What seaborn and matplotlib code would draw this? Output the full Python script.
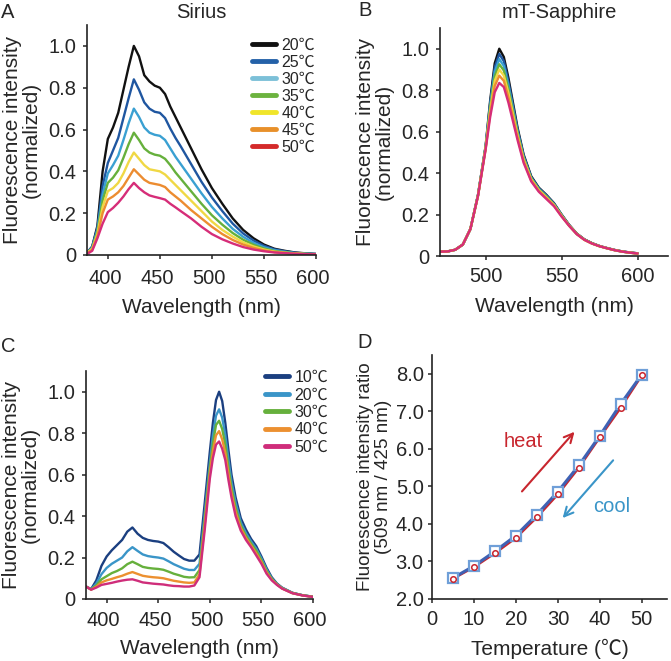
import numpy as np
import pandas as pd
import matplotlib
matplotlib.use("Agg")
import matplotlib.pyplot as plt
from matplotlib.lines import Line2D
from matplotlib.transforms import ScaledTranslation
import seaborn as sns

sns.set_style("ticks")
plt.rcParams['font.family'] = ['Liberation Sans', 'Noto Sans CJK JP', 'DejaVu Sans']
plt.rcParams['axes.linewidth'] = 1.2

# ---------------- Panel A: Sirius ----------------
wl_a = [380, 385, 390, 395, 400, 405, 410, 415, 420, 425, 430, 435, 440, 445, 450, 455,
        460, 465, 470, 480, 490, 500, 510, 520, 530, 540, 550, 560, 570, 580, 590, 600]
temps_a = ['20℃', '25℃', '30℃', '35℃', '40℃', '45℃', '50℃']
a_20 = [0.01, 0.04, 0.14, 0.40, 0.555, 0.61, 0.68, 0.79, 0.90, 1.00, 0.95, 0.86, 0.83, 0.81, 0.80, 0.77,
        0.71, 0.66, 0.61, 0.51, 0.41, 0.32, 0.245, 0.175, 0.12, 0.08, 0.05, 0.03, 0.02, 0.012, 0.008, 0.005]
a_25 = [0.01, 0.04, 0.13, 0.33, 0.44, 0.50, 0.56, 0.655, 0.75, 0.84, 0.79, 0.73, 0.70, 0.685, 0.68, 0.655,
        0.605, 0.56, 0.52, 0.435, 0.35, 0.275, 0.21, 0.15, 0.103, 0.069, 0.044, 0.027, 0.018, 0.011, 0.007, 0.005]
a_30 = [0.01, 0.035, 0.12, 0.29, 0.39, 0.43, 0.475, 0.55, 0.63, 0.70, 0.66, 0.61, 0.585, 0.575, 0.57, 0.55,
        0.51, 0.47, 0.435, 0.365, 0.295, 0.23, 0.175, 0.125, 0.087, 0.058, 0.037, 0.023, 0.015, 0.009, 0.006, 0.004]
a_35 = [0.01, 0.03, 0.11, 0.26, 0.345, 0.37, 0.405, 0.465, 0.53, 0.585, 0.55, 0.51, 0.49, 0.48, 0.475, 0.46,
        0.43, 0.395, 0.365, 0.305, 0.245, 0.19, 0.145, 0.105, 0.073, 0.049, 0.031, 0.019, 0.013, 0.008, 0.005, 0.004]
a_40 = [0.01, 0.03, 0.10, 0.23, 0.305, 0.32, 0.345, 0.39, 0.445, 0.49, 0.46, 0.43, 0.41, 0.405, 0.40, 0.385,
        0.36, 0.335, 0.31, 0.26, 0.21, 0.16, 0.12, 0.088, 0.061, 0.041, 0.026, 0.016, 0.011, 0.007, 0.005, 0.003]
a_45 = [0.008, 0.025, 0.09, 0.20, 0.265, 0.28, 0.30, 0.33, 0.37, 0.41, 0.385, 0.36, 0.345, 0.34, 0.335, 0.325,
        0.30, 0.28, 0.26, 0.215, 0.175, 0.135, 0.10, 0.072, 0.05, 0.034, 0.022, 0.014, 0.010, 0.006, 0.004, 0.003]
a_50 = [0.005, 0.02, 0.08, 0.15, 0.205, 0.225, 0.25, 0.28, 0.315, 0.345, 0.32, 0.30, 0.285, 0.278, 0.272, 0.265,
        0.245, 0.228, 0.21, 0.175, 0.135, 0.10, 0.075, 0.055, 0.038, 0.026, 0.018, 0.012, 0.009, 0.006, 0.004, 0.003]
colors_a = ['#111111', '#1f56a0', '#3aa0d2', '#66b03c', '#f0d844', '#ec8c30', '#d62d78']
legend_colors_a = ['#111111', '#2461a8', '#7cc0d8', '#6cb33f', '#f0e52a', '#e8902a', '#d42a2a']

# ---------------- Panel B: mT-Sapphire ----------------
wl_b = [470, 475, 480, 485, 490, 495, 500, 503, 506, 509, 512, 515, 518, 521, 525, 530, 535, 540,
        545, 550, 555, 560, 565, 570, 575, 580, 585, 590, 595, 600]
b_20 = [0.021, 0.022, 0.03, 0.055, 0.13, 0.295, 0.53, 0.75, 0.93, 1.00, 0.96, 0.86, 0.74, 0.62, 0.49, 0.385, 0.33, 0.295,
        0.255, 0.20, 0.15, 0.108, 0.08, 0.062, 0.048, 0.038, 0.029, 0.022, 0.017, 0.013]
b_25 = [0.021, 0.022, 0.03, 0.055, 0.13, 0.294, 0.527, 0.738, 0.91, 0.975, 0.94, 0.842, 0.727, 0.611, 0.484, 0.381, 0.327, 0.292,
        0.253, 0.199, 0.149, 0.108, 0.08, 0.061, 0.048, 0.038, 0.029, 0.022, 0.017, 0.013]
b_30 = [0.021, 0.022, 0.03, 0.055, 0.13, 0.293, 0.525, 0.726, 0.89, 0.95, 0.917, 0.824, 0.713, 0.602, 0.478, 0.377, 0.324, 0.289,
        0.25, 0.197, 0.148, 0.107, 0.079, 0.061, 0.048, 0.037, 0.028, 0.021, 0.016, 0.012]
b_35 = [0.021, 0.022, 0.03, 0.055, 0.13, 0.292, 0.522, 0.714, 0.867, 0.925, 0.895, 0.806, 0.70, 0.593, 0.472, 0.374, 0.321, 0.286,
        0.248, 0.196, 0.147, 0.107, 0.079, 0.061, 0.047, 0.037, 0.028, 0.021, 0.016, 0.012]
b_40 = [0.021, 0.022, 0.03, 0.055, 0.13, 0.291, 0.52, 0.70, 0.845, 0.90, 0.87, 0.787, 0.685, 0.583, 0.466, 0.37, 0.318, 0.283,
        0.246, 0.194, 0.146, 0.106, 0.078, 0.06, 0.047, 0.037, 0.028, 0.021, 0.016, 0.012]
b_45 = [0.021, 0.022, 0.03, 0.055, 0.13, 0.29, 0.516, 0.687, 0.82, 0.87, 0.845, 0.765, 0.669, 0.573, 0.458, 0.365, 0.314, 0.279,
        0.243, 0.192, 0.146, 0.106, 0.078, 0.06, 0.047, 0.037, 0.028, 0.021, 0.016, 0.012]
b_50 = [0.021, 0.022, 0.03, 0.055, 0.13, 0.29, 0.513, 0.67, 0.79, 0.835, 0.815, 0.74, 0.65, 0.56, 0.45, 0.36, 0.31, 0.275,
        0.24, 0.19, 0.145, 0.105, 0.078, 0.06, 0.047, 0.037, 0.028, 0.021, 0.016, 0.012]

# ---------------- Panel C: Sirius + mT-Sapphire ----------------
wl_c = [380, 385, 390, 395, 400, 405, 410, 415, 420, 425, 430, 435, 440, 445, 450, 455, 460, 465, 470, 475,
        480, 485, 490, 495, 500, 503, 506, 509, 512, 515, 518, 521, 525, 530, 535, 540, 545, 550, 555, 560,
        565, 570, 580, 590, 600]
temps_c = ['10℃', '20℃', '30℃', '40℃', '50℃']
c_10 = [0.06, 0.048, 0.09, 0.16, 0.205, 0.235, 0.26, 0.285, 0.325, 0.345, 0.315, 0.295, 0.285, 0.28, 0.277, 0.27, 0.25, 0.228, 0.21, 0.193,
        0.185, 0.185, 0.215, 0.46, 0.71, 0.85, 0.96, 1.00, 0.955, 0.85, 0.72, 0.60, 0.49, 0.39, 0.335, 0.29, 0.255, 0.205, 0.15, 0.105,
        0.075, 0.055, 0.03, 0.018, 0.011]
c_20 = [0.06, 0.047, 0.075, 0.12, 0.15, 0.17, 0.185, 0.20, 0.23, 0.25, 0.232, 0.215, 0.207, 0.203, 0.20, 0.195, 0.182, 0.168, 0.157, 0.146,
        0.14, 0.14, 0.17, 0.41, 0.655, 0.79, 0.885, 0.915, 0.875, 0.79, 0.675, 0.565, 0.465, 0.37, 0.318, 0.278, 0.243, 0.196, 0.143, 0.10,
        0.073, 0.054, 0.03, 0.018, 0.011]
c_30 = [0.06, 0.046, 0.065, 0.095, 0.11, 0.125, 0.135, 0.148, 0.168, 0.18, 0.168, 0.155, 0.15, 0.147, 0.145, 0.141, 0.132, 0.122, 0.115, 0.107,
        0.104, 0.105, 0.14, 0.38, 0.63, 0.75, 0.84, 0.86, 0.82, 0.745, 0.635, 0.535, 0.44, 0.355, 0.305, 0.268, 0.233, 0.187, 0.135, 0.097,
        0.071, 0.052, 0.029, 0.018, 0.011]
c_40 = [0.06, 0.045, 0.06, 0.08, 0.09, 0.097, 0.105, 0.112, 0.122, 0.13, 0.121, 0.112, 0.108, 0.105, 0.103, 0.10, 0.094, 0.088, 0.084, 0.08,
        0.078, 0.08, 0.12, 0.355, 0.605, 0.715, 0.79, 0.81, 0.77, 0.705, 0.605, 0.51, 0.42, 0.342, 0.295, 0.258, 0.22, 0.178, 0.128, 0.093,
        0.07, 0.051, 0.028, 0.017, 0.01]
c_50 = [0.06, 0.045, 0.055, 0.068, 0.073, 0.078, 0.084, 0.089, 0.093, 0.095, 0.088, 0.08, 0.077, 0.074, 0.072, 0.07, 0.066, 0.063, 0.062, 0.06,
        0.06, 0.065, 0.105, 0.33, 0.58, 0.68, 0.745, 0.76, 0.725, 0.67, 0.575, 0.49, 0.40, 0.33, 0.285, 0.25, 0.21, 0.17, 0.122, 0.09,
        0.068, 0.05, 0.028, 0.017, 0.01]
colors_c = ['#1b3f80', '#3a95c8', '#66b03c', '#ec9030', '#cf2d7a']

# ---------------- Panel D: ratio ----------------
temp_d = [5, 10, 15, 20, 25, 30, 35, 40, 45, 50]
heat = [2.54, 2.85, 3.22, 3.63, 4.18, 4.79, 5.50, 6.31, 7.10, 7.96]
cool = [2.56, 2.88, 3.27, 3.69, 4.25, 4.86, 5.56, 6.35, 7.20, 7.98]

W, H = 671, 661
fig = plt.figure(figsize=(W / 100, H / 100), dpi=100)

TICK_FS = 14.5
LABEL_FS = 15


def ax_at(l, t, r, b):
    return fig.add_axes([l / W, 1 - b / H, (r - l) / W, (b - t) / H])


def long_df(wl, series, labels):
    return pd.DataFrame({
        'wl': np.tile(wl, len(series)),
        'I': np.concatenate([np.asarray(s, float) for s in series]),
        'T': np.repeat(labels, len(wl)),
    })


def style_axis(ax, xpad, ypad):
    sns.despine(ax=ax)
    ax.tick_params(axis='x', direction='out', length=3, width=1.1, labelsize=TICK_FS, pad=xpad)
    ax.tick_params(axis='y', direction='out', length=3, width=1.1, labelsize=TICK_FS, pad=ypad)
    for s in ax.spines.values():
        s.set_color('#222222')


def shift_xlabels(ax, dx_px):
    off = ScaledTranslation(dx_px / 100, 0, fig.dpi_scale_trans)
    for lab in ax.get_xticklabels():
        lab.set_transform(lab.get_transform() + off)


ylab = 'Fluorescence intensity\n(normalized)'
yt = [0, 0.2, 0.4, 0.6, 0.8, 1.0]
ytl = ['0', '0.2', '0.4', '0.6', '0.8', '1.0']

# Panel A
axA = ax_at(87, 25, 316, 255)
dfA = long_df(wl_a, [a_20, a_25, a_30, a_35, a_40, a_45, a_50], temps_a)
sns.lineplot(data=dfA, x='wl', y='I', hue='T', palette=colors_a, legend=False, ax=axA,
             lw=1.7, estimator=None, sort=False)
axA.set_xlim(380, 600)
axA.set_ylim(0, 1.1)
axA.set_xticks([400, 450, 500, 550, 600])
axA.set_yticks(yt)
axA.set_yticklabels(ytl)
style_axis(axA, 7, 5)
axA.set_xlabel('Wavelength (nm)', fontsize=LABEL_FS, labelpad=7)
axA.set_ylabel(ylab, fontsize=LABEL_FS, labelpad=5, linespacing=1.0)
shift_xlabels(axA, -3)
handlesA = [Line2D([], [], color=c, lw=3.5) for c in legend_colors_a]
fig.legend(handlesA, temps_a, loc='upper left', bbox_to_anchor=(252 / W, 1 - 38 / H),
           frameon=False, fontsize=11.5, handlelength=1.5, handletextpad=0.35,
           labelspacing=0.12, borderpad=0, borderaxespad=0)

# Panel B
axB = ax_at(440, 28, 668, 256)
dfB = long_df(wl_b, [b_20, b_25, b_30, b_35, b_40, b_45, b_50], temps_a)
sns.lineplot(data=dfB, x='wl', y='I', hue='T', palette=colors_a, legend=False, ax=axB,
             lw=1.7, estimator=None, sort=False)
axB.set_xlim(470, 620)
axB.set_ylim(0, 1.1)
axB.set_xticks([500, 550, 600])
axB.set_yticks(yt)
axB.set_yticklabels(ytl)
style_axis(axB, 5, 5)
axB.set_xlabel('Wavelength (nm)', fontsize=LABEL_FS, labelpad=8)
axB.set_ylabel(ylab, fontsize=LABEL_FS, labelpad=5, linespacing=1.0)

# Panel C
axC = ax_at(86, 371, 313, 599)
dfC = long_df(wl_c, [c_10, c_20, c_30, c_40, c_50], temps_c)
sns.lineplot(data=dfC, x='wl', y='I', hue='T', palette=colors_c, legend=False, ax=axC,
             lw=1.7, estimator=None, sort=False)
axC.set_xlim(380, 600)
axC.set_ylim(0, 1.1)
axC.set_xticks([400, 450, 500, 550, 600])
axC.set_yticks(yt)
axC.set_yticklabels(ytl)
style_axis(axC, 6, 5)
axC.set_xlabel('Wavelength (nm)', fontsize=LABEL_FS, labelpad=6)
axC.set_ylabel(ylab, fontsize=LABEL_FS, labelpad=5, linespacing=1.0)
shift_xlabels(axC, -3)
handlesC = [Line2D([], [], color=c, lw=3.5) for c in colors_c]
fig.legend(handlesC, temps_c, loc='upper left', bbox_to_anchor=(265 / W, 1 - 370 / H),
           frameon=False, fontsize=11.5, handlelength=1.5, handletextpad=0.35,
           labelspacing=0.15, borderpad=0, borderaxespad=0)

# Panel D
axD = ax_at(432, 355, 667, 599)
red = '#c8262e'
blue = '#3f62b4'
sns.lineplot(x=temp_d, y=heat, color=red, lw=1.8, ax=axD, estimator=None, sort=False)
sns.lineplot(x=temp_d, y=cool, color=blue, lw=2.2, ax=axD, estimator=None, sort=False)
sns.lineplot(x=temp_d, y=cool, color=blue, ax=axD, estimator=None, sort=False, linestyle='none',
             marker='s', markersize=6.5, markerfacecolor='white', markeredgecolor='#6f9fd8',
             markeredgewidth=1.6)
sns.lineplot(x=temp_d, y=heat, color=red, ax=axD, estimator=None, sort=False, linestyle='none',
             marker='o', markersize=4, markerfacecolor='white', markeredgecolor=red,
             markeredgewidth=1.1)
axD.set_xlim(0, 56)
axD.set_ylim(2.0, 8.5)
axD.set_xticks([0, 10, 20, 30, 40, 50])
axD.set_yticks([2, 3, 4, 5, 6, 7, 8])
axD.set_yticklabels(['2.0', '3.0', '4.0', '5.0', '6.0', '7.0', '8.0'])
style_axis(axD, 5, 3)
axD.set_xlabel('Temperature (℃)', fontsize=LABEL_FS, labelpad=7)
axD.set_ylabel('Fluorescence intensity ratio\n(509 nm / 425 nm)', fontsize=13.6, labelpad=3,
               linespacing=1.0)
axD.annotate('', xy=(34.4, 6.51), xytext=(21.0, 4.81),
             arrowprops=dict(arrowstyle='->', color=red, lw=1.5, mutation_scale=16))
axD.annotate('', xy=(30.7, 4.10), xytext=(43.6, 5.75),
             arrowprops=dict(arrowstyle='->', color='#3a95c8', lw=1.5, mutation_scale=16))
axD.text(21.8, 6.2, 'heat', color=red, fontsize=14.5, ha='center', va='center')
axD.text(42.9, 4.46, 'cool', color='#3a95c8', fontsize=14.5, ha='center', va='center')

# Titles and panel letters
fig.text(201 / W, 1 - 12 / H, 'Sirius', fontsize=14.5, ha='center', va='center')
fig.text(559 / W, 1 - 12 / H, 'mT-Sapphire', fontsize=14.5, ha='center', va='center')
fig.text(8 / W, 1 - 12 / H, 'A', fontsize=14.5, ha='center', va='center')
fig.text(365 / W, 1 - 11 / H, 'B', fontsize=14.5, ha='center', va='center')
fig.text(8 / W, 1 - 346 / H, 'C', fontsize=14.5, ha='center', va='center')
fig.text(365 / W, 1 - 343 / H, 'D', fontsize=14.5, ha='center', va='center')

fig.savefig('out.png', dpi=100, facecolor='white')
